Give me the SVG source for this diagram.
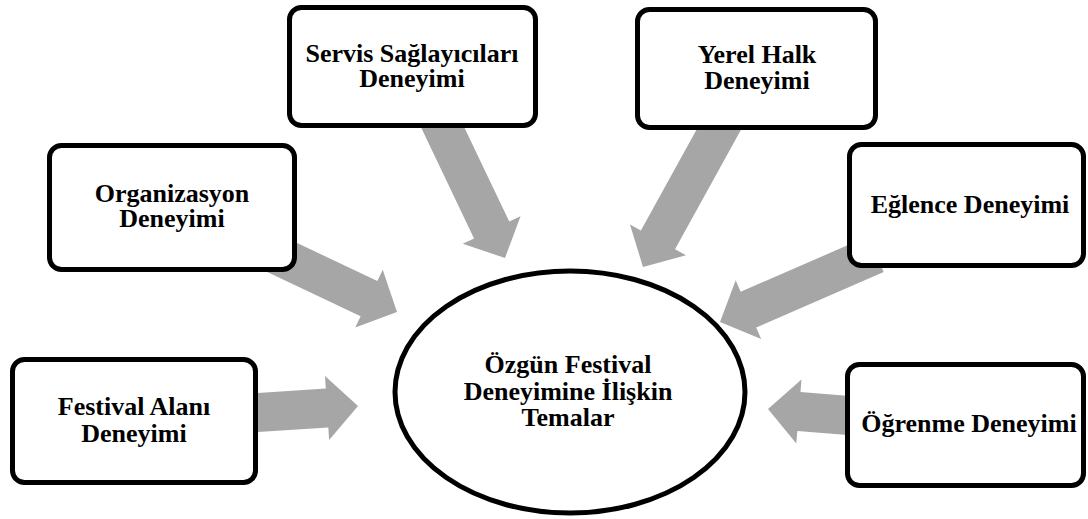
<svg xmlns="http://www.w3.org/2000/svg" xmlns:xlink="http://www.w3.org/1999/xlink" width="1088" height="519" viewBox="0 0 1088 519">
  <style>
    .box { fill: #ffffff; stroke: #000000; stroke-width: 5; }
    .hub { fill: #ffffff; stroke: #000000; stroke-width: 5; }
    .lbl { font-family: "Liberation Serif", "Times New Roman", serif; font-weight: bold; font-size: 26px; fill: #000000; text-anchor: middle; }
    .arr { fill: #A6A6A6; stroke: none; }
  </style>
  <defs>
    <path id="bigArrow" d="M0,0 L-31,-32 L-31,-19.5 L-170,-19.5 L-170,19.5 L-31,19.5 L-31,32 Z"/>
  </defs>
  <rect x="0" y="0" width="1088" height="519" fill="#ffffff"/>

  <g id="center-node">
    <ellipse class="hub" cx="570" cy="392" rx="175" ry="121"/>
    <text class="lbl" x="568" y="373">Özgün Festival</text>
    <text class="lbl" x="568" y="400">Deneyimine İlişkin</text>
    <text class="lbl" x="568" y="426">Temalar</text>
  </g>

  <g id="connectors">
    <use xlink:href="#bigArrow" href="#bigArrow" class="arr" transform="translate(358,406) rotate(-3.7)"/>
    <use xlink:href="#bigArrow" href="#bigArrow" class="arr" transform="translate(397,312) rotate(25.4)"/>
    <use xlink:href="#bigArrow" href="#bigArrow" class="arr" transform="translate(505,258) rotate(64.5)"/>
    <use xlink:href="#bigArrow" href="#bigArrow" class="arr" transform="translate(643,267) rotate(118.9)"/>
    <use xlink:href="#bigArrow" href="#bigArrow" class="arr" transform="translate(720,322) rotate(156.5)"/>
    <use xlink:href="#bigArrow" href="#bigArrow" class="arr" transform="translate(768,409) rotate(184.6)"/>
  </g>

  <g id="servis-node">
    <rect class="box" x="289.5" y="7.5" width="246" height="118" rx="12"/>
    <text class="lbl" x="412" y="62">Servis Sağlayıcıları</text>
    <text class="lbl" x="412" y="87">Deneyimi</text>
  </g>

  <g id="yerel-node">
    <rect class="box" x="637.5" y="9.5" width="238" height="118" rx="12"/>
    <text class="lbl" x="757" y="63">Yerel Halk</text>
    <text class="lbl" x="757" y="89">Deneyimi</text>
  </g>

  <g id="organizasyon-node">
    <rect class="box" x="49.5" y="145.5" width="245" height="124" rx="12"/>
    <text class="lbl" x="172" y="202">Organizasyon</text>
    <text class="lbl" x="172" y="227">Deneyimi</text>
  </g>

  <g id="eglence-node">
    <rect class="box" x="849.5" y="144.5" width="234" height="121" rx="12"/>
    <text class="lbl" x="970" y="213">Eğlence Deneyimi</text>
  </g>

  <g id="festival-node">
    <rect class="box" x="12.5" y="359.5" width="243" height="123" rx="12"/>
    <text class="lbl" x="134" y="415">Festival Alanı</text>
    <text class="lbl" x="134" y="442">Deneyimi</text>
  </g>

  <g id="ogrenme-node">
    <rect class="box" x="847.5" y="364.5" width="236" height="121" rx="12"/>
    <text class="lbl" x="969" y="432">Öğrenme Deneyimi</text>
  </g>
</svg>
